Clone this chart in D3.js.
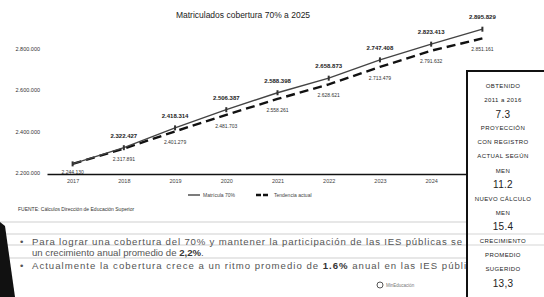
<!DOCTYPE html>
<html>
<head>
<meta charset="utf-8">
<script src="https://cdn.jsdelivr.net/npm/d3@7"></script>
<style>
  body { margin: 0; background: #fff; }
  svg { display: block; font-family: "Liberation Sans", Arial, sans-serif; }
</style>
</head>
<body>
<div id="chart"></div>
<script>
const years = [2017, 2018, 2019, 2020, 2021, 2022, 2023, 2024, 2025]
const meta70 = [2244130, 2322427, 2418314, 2506387, 2588398, 2658873, 2747408, 2823413, 2895829]
const tendencia = [2244130, 2317891, 2401279, 2481703, 2558261, 2628621, 2713479, 2791632, 2851161]
const yTicks = [2200000, 2400000, 2600000, 2800000]
const legendLabels = ["Matrícula 70%", "Tendencia actual"]
const boxLines = [
  ["OBTENIDO", "l"], ["2011 a 2016", "l"], ["7.3", "n"],
  ["PROYECCIÓN", "l"], ["CON REGISTRO", "l"], ["ACTUAL SEGÚN", "l"], ["MEN", "l"], ["11.2", "n"],
  ["NUEVO CÁLCULO", "l"], ["MEN", "l"], ["15.4", "n"],
  ["CRECIMIENTO", "l"], ["PROMEDIO", "l"], ["SUGERIDO", "l"], ["13,3", "n"]
]

const width = 544
const height = 297

const es = d3.formatLocale({ decimal: ",", thousands: ".", grouping: [3], currency: ["", ""] })
const fmt = es.format(",d")

const svg = d3.select("#chart")
  .append("svg")
  .attr("width", width)
  .attr("height", height)
  .attr("viewBox", "0 0 " + width + " " + height)

const x = d3.scalePoint()
  .domain(years)
  .range([47, 508])
  .padding(0.5)

const y = d3.scaleLinear()
  .domain([2200000, 2800000])
  .range([173, 49])

// title
svg.append("text")
  .attr("x", 243).attr("y", 18)
  .attr("text-anchor", "middle")
  .attr("font-size", 8.5)
  .attr("fill", "#222")
  .text("Matriculados cobertura 70% a 2025")

// y tick labels
svg.append("g")
  .selectAll("text")
  .data(yTicks)
  .enter()
  .append("text")
  .attr("x", 40)
  .attr("y", d => y(d))
  .attr("dy", "0.35em")
  .attr("text-anchor", "end")
  .attr("font-size", 5.5)
  .attr("fill", "#333")
  .text(d => fmt(d))

// x axis
const xAxis = svg.append("g")
  .attr("transform", "translate(0,174)")
  .call(d3.axisBottom(x).tickSize(0).tickPadding(5))
xAxis.select(".domain").attr("stroke", "#111").attr("stroke-width", 1.6)
xAxis.selectAll("text").attr("font-size", 5.5).attr("fill", "#444")

const line = d3.line()
  .x((d, i) => x(years[i]))
  .y(d => y(d))

// series
svg.append("path")
  .datum(tendencia)
  .attr("d", line)
  .attr("fill", "none")
  .attr("stroke", "#111")
  .attr("stroke-width", 2.4)
  .attr("stroke-dasharray", "9,5")

svg.append("path")
  .datum(meta70)
  .attr("d", line)
  .attr("fill", "none")
  .attr("stroke", "#444")
  .attr("stroke-width", 1.4)

svg.append("g")
  .selectAll("rect")
  .data(meta70)
  .enter()
  .append("rect")
  .attr("x", (d, i) => x(years[i]) - 1)
  .attr("y", d => y(d) - 2.5)
  .attr("width", 2)
  .attr("height", 5)
  .attr("fill", "#333")

// data labels
svg.append("g")
  .selectAll("text")
  .data(meta70.slice(1))
  .enter()
  .append("text")
  .attr("x", (d, i) => x(years[i + 1]))
  .attr("y", d => y(d) - 12)
  .attr("dy", "0.35em")
  .attr("text-anchor", "middle")
  .attr("font-size", 6)
  .attr("font-weight", "bold")
  .attr("fill", "#222")
  .text(d => fmt(d))

svg.append("g")
  .selectAll("text")
  .data(tendencia)
  .enter()
  .append("text")
  .attr("x", (d, i) => x(years[i]))
  .attr("y", (d, i) => y(d) + (i === 0 ? 8 : 11))
  .attr("dy", "0.35em")
  .attr("text-anchor", "middle")
  .attr("font-size", 5)
  .attr("fill", "#333")
  .text(d => fmt(d))

// legend
const legend = svg.append("g").attr("transform", "translate(188,195)")
legend.append("line").attr("x1", 0).attr("x2", 12).attr("stroke", "#444").attr("stroke-width", 1.4)
legend.append("text").attr("x", 15).attr("dy", "0.35em").attr("font-size", 5).attr("fill", "#444").text(legendLabels[0])
legend.append("line").attr("x1", 68).attr("x2", 82).attr("stroke", "#111").attr("stroke-width", 2.4).attr("stroke-dasharray", "5,2")
legend.append("text").attr("x", 86).attr("dy", "0.35em").attr("font-size", 5).attr("fill", "#444").text(legendLabels[1])

// source
svg.append("text")
  .attr("x", 18).attr("y", 211)
  .attr("font-size", 5)
  .attr("fill", "#333")
  .text("FUENTE: Cálculos Dirección de Educación Superior")

// ruled lines of the sheet
svg.append("g")
  .selectAll("line")
  .data([222, 234, 245, 258])
  .enter()
  .append("line")
  .attr("x1", 0).attr("x2", width)
  .attr("y1", d => d).attr("y2", d => d)
  .attr("stroke", "#cfcfcf")
  .attr("stroke-width", 1)

// bullets
const bullets = svg.append("g").attr("font-size", 9.6).attr("fill", "#555")
bullets.append("text").attr("x", 20).attr("y", 245).text("•")
bullets.append("text").attr("x", 32).attr("y", 245)
  .attr("textLength", 430).attr("lengthAdjust", "spacing")
  .text("Para lograr una cobertura del 70% y mantener la participación de las IES públicas se")
bullets.append("text").attr("x", 32).attr("y", 256)
  .call(t => {
    t.append("tspan").text("un crecimiento anual promedio de ")
    t.append("tspan").attr("font-weight", "bold").attr("fill", "#333").text("2,2%")
    t.append("tspan").text(".")
  })
bullets.append("text").attr("x", 20).attr("y", 269).text("•")
bullets.append("text").attr("x", 32).attr("y", 269)
  .attr("textLength", 452).attr("lengthAdjust", "spacing")
  .call(t => {
    t.append("tspan").text("Actualmente la cobertura crece a un ritmo promedio de ")
    t.append("tspan").attr("font-weight", "bold").attr("fill", "#333").text("1.6%")
    t.append("tspan").text(" anual en las IES públicas")
  })

// logo
const logo = svg.append("g").attr("transform", "translate(380,285)")
logo.append("circle").attr("r", 3).attr("fill", "none").attr("stroke", "#555").attr("stroke-width", 1)
logo.append("text").attr("x", 6).attr("dy", "0.35em").attr("font-size", 4.5).attr("fill", "#777").text("MinEducación")

// dark corner of the photo
svg.append("path")
  .attr("d", "M0,222 L5,226 L15,297 L0,297 Z")
  .attr("fill", "#111")

// side box
svg.append("rect")
  .attr("x", 467).attr("y", 71)
  .attr("width", 90).attr("height", 240)
  .attr("fill", "#fff")
  .attr("stroke", "#111")
  .attr("stroke-width", 2)

svg.append("g")
  .selectAll("line")
  .data([234, 245])
  .enter()
  .append("line")
  .attr("x1", 468).attr("x2", width)
  .attr("y1", d => d).attr("y2", d => d)
  .attr("stroke", "#d5d5d5")

const boxY = d3.scalePoint()
  .domain(d3.range(boxLines.length))
  .range([86, 283])

svg.append("g")
  .selectAll("text")
  .data(boxLines)
  .enter()
  .append("text")
  .attr("x", 503)
  .attr("y", (d, i) => boxY(i))
  .attr("dy", "0.35em")
  .attr("text-anchor", "middle")
  .attr("font-size", d => d[1] === "n" ? 10 : 6)
  .attr("letter-spacing", d => d[1] === "n" ? 0.3 : 0.4)
  .attr("fill", "#222")
  .text(d => d[0])
</script>
</body>
</html>
